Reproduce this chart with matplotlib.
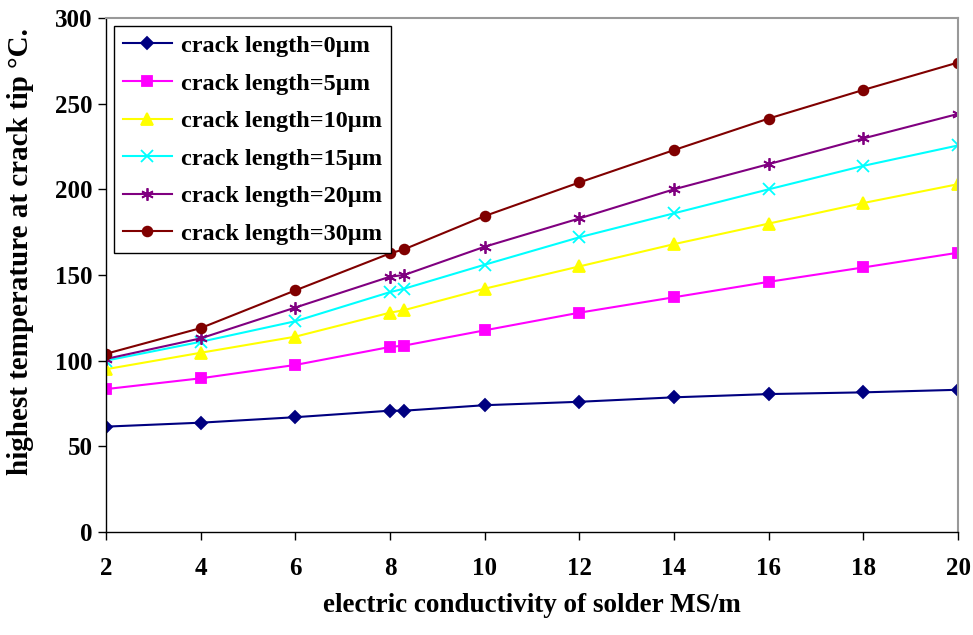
import matplotlib
matplotlib.use("Agg")
import matplotlib.pyplot as plt

x = [2, 4, 6, 8, 8.3, 10, 12, 14, 16, 18, 20]
s0 = [61.5, 63.8, 67, 70.8, 70.8, 74, 76, 78.6, 80.5, 81.5, 83]
s5 = [83.4, 89.7, 97.5, 108, 108.8, 117.7, 128, 137, 146, 154.4, 163]
s10 = [95, 104.6, 114, 128, 129.5, 142, 155, 168, 180, 192, 203]
s15 = [100, 111, 123, 140, 142, 156, 172, 186, 200, 213.7, 225.6]
s20 = [101, 113, 131, 149, 150, 166.5, 183, 200, 214.7, 229.7, 244]
s30 = [104, 119, 141, 162.6, 165, 184.4, 204, 222.9, 241.3, 258, 274]

labels = ["crack length=0\u00b5m", "crack length=5\u00b5m", "crack length=10\u00b5m",
          "crack length=15\u00b5m", "crack length=20\u00b5m", "crack length=30\u00b5m"]
series = [s0, s5, s10, s15, s20, s30]
colors = ["#000080", "#FF00FF", "#FFFF00", "#00FFFF", "#800080", "#800000"]
markers = ["D", "s", "^", "x", (6, 2, 0), "o"]
msizes = [6.5, 7, 8, 8, 9, 7]

plt.rcParams['font.family'] = ['Liberation Serif', 'DejaVu Serif']
plt.rcParams['font.weight'] = 'bold'

fig = plt.figure(figsize=(9.73, 6.35), dpi=100)
ax = fig.add_axes([0.1089, 0.1622, 0.8757, 0.8095])

for ys, lab, c, m, ms in zip(series, labels, colors, markers, msizes):
    ax.plot(x, ys, color=c, marker=m, markersize=ms, linewidth=1.5, label=lab,
            markeredgecolor=c, markerfacecolor=c, markeredgewidth=1.3)

ax.set_xlim(2, 20)
ax.set_ylim(0, 300)
ax.set_xticks([2, 4, 6, 8, 10, 12, 14, 16, 18, 20])
ax.set_yticks([0, 50, 100, 150, 200, 250, 300])
ax.tick_params(axis='both', direction='out', length=6, width=1, labelsize=18)
ax.tick_params(axis='y', pad=3.5)
ax.tick_params(axis='x', pad=12)
for t in ax.get_xticklabels() + ax.get_yticklabels():
    t.set_fontweight('bold')

for side in ['top', 'right']:
    ax.spines[side].set_color('#999999')
    ax.spines[side].set_linewidth(1.5)
for side in ['left', 'bottom']:
    ax.spines[side].set_color('black')
    ax.spines[side].set_linewidth(1)

ax.set_xlabel("electric conductivity of solder MS/m", fontsize=19.5, fontweight='bold')
ax.xaxis.set_label_coords(0.5, -0.118)
ax.set_ylabel("highest temperature at crack tip \u00b0C.", fontsize=21, fontweight='bold')
ax.yaxis.set_label_coords(-0.085, 0.545)

leg = ax.legend(loc='upper left', bbox_to_anchor=(0.0, 1.0), fontsize=17.5, frameon=True,
                fancybox=False, edgecolor='black', framealpha=1, handlelength=2.0,
                borderpad=0.35, labelspacing=0.64, handletextpad=0.4, borderaxespad=0.35)
leg.get_frame().set_linewidth(1)
for t in leg.get_texts():
    t.set_fontweight('bold')

fig.savefig("out.png", dpi=100)
